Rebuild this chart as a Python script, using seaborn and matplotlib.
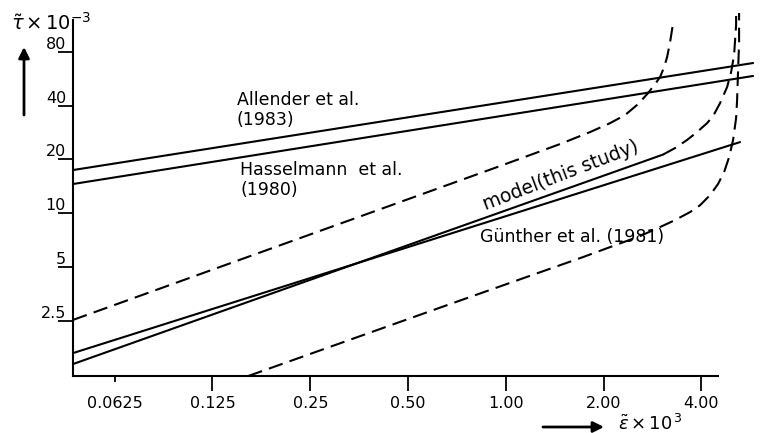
import matplotlib
matplotlib.use("Agg")
import matplotlib.pyplot as plt
from matplotlib.ticker import NullLocator
import seaborn as sns

# ---------------- data ----------------
x_ticks = [0.0625, 0.125, 0.25, 0.5, 1.0, 2.0, 4.0]
x_tick_labels = ["0.0625", "0.125", "0.25", "0.50", "1.00", "2.00", "4.00"]
y_ticks = [2.5, 5, 10, 20, 40, 80]
y_tick_labels = ["2.5", "5", "10", "20", "40", "80"]

allender_x = [0.0465, 5.77]
allender_y = [17.45, 69.1]
hasselmann_x = [0.0465, 5.77]
hasselmann_y = [14.58, 58.5]
guenther_x = [0.0465, 5.26]
guenther_y = [1.658, 25.0]
model_x = [0.0465, 3.05]
model_y = [1.44, 21.3]
model_dash_x = [3.049, 3.320, 3.615, 3.880, 4.165, 4.346, 4.567, 4.800,
                4.938, 5.043, 5.079, 5.116, 5.116]
model_dash_y = [21.3, 23.16, 25.7, 28.45, 31.9, 34.95, 41.3, 50.75,
                61.54, 76.6, 92.9, 112.6, 131.4]
guenther_dash_x = [0.1611, 0.6738, 1.729, 2.094, 2.591, 2.985, 3.320, 3.692,
                   3.963, 4.255, 4.50, 4.699, 4.868, 5.008, 5.116, 5.152,
                   5.188, 5.225, 5.225]
guenther_dash_y = [1.235, 3.115, 5.70, 6.48, 7.47, 8.387, 9.17, 10.17,
                   11.1, 12.65, 14.58, 17.01, 20.6, 25.7, 34.06, 42.9,
                   63.1, 89.4, 131.4]
upper_dash_x = [0.0465, 0.9604, 1.469, 1.818, 2.094, 2.329, 2.555, 2.742,
                2.881, 2.985, 3.071, 3.137, 3.204, 3.273]
upper_dash_y = [2.54, 18.38, 24.38, 28.45, 31.9, 35.4, 40.78, 47.0,
                52.74, 57.7, 65.6, 74.6, 90.5, 115.6]

# ---------------- style ----------------
sns.set_style("white", rc={"axes.edgecolor": "black"})
plt.rcParams["font.family"] = ["DejaVu Sans"]
plt.rcParams["text.color"] = "black"

W, H = 784, 433
fig = plt.figure(figsize=(W / 100, H / 100), dpi=100)
ax = fig.add_axes([73 / W, 57 / H, 687 / W, 371 / H])

LW = 1.5
DASH = (0, (7, 3.5))

def draw(xs, ys, ls="-"):
    sns.lineplot(x=xs, y=ys, ax=ax, color="black", lw=LW, linestyle=ls,
                 estimator=None, sort=False)

ax.set_xscale("log", base=2)
ax.set_yscale("log", base=2)

draw(allender_x, allender_y)
draw(hasselmann_x, hasselmann_y)
draw(guenther_x, guenther_y)
draw(model_x, model_y)
draw(model_dash_x, model_dash_y, DASH)
draw(guenther_dash_x, guenther_dash_y, DASH)
draw(upper_dash_x, upper_dash_y, DASH)

ax.set_xlim(0.0465, 6.06)
ax.set_ylim(1.235, 145.7)

for s in ["top", "right"]:
    ax.spines[s].set_visible(False)
ax.spines["left"].set_bounds(1.235, 120.1)
ax.spines["bottom"].set_bounds(0.0465, 4.50)
ax.spines["left"].set_linewidth(1.5)
ax.spines["bottom"].set_linewidth(1.5)

ax.set_xticks(x_ticks, x_tick_labels)
ax.set_yticks(y_ticks, y_tick_labels)
ax.xaxis.set_minor_locator(NullLocator())
ax.yaxis.set_minor_locator(NullLocator())
ax.tick_params(axis="x", direction="out", length=10.5, width=1.3, pad=4.0,
               labelsize=11.5, colors="black", bottom=True)
ax.tick_params(axis="y", direction="out", length=10.8, width=1.3, pad=-5.8,
               labelsize=11.5, colors="black", left=True)
for lab in ax.get_yticklabels():
    lab.set_verticalalignment("bottom")
ax.xaxis.get_major_ticks()[0].tick1line.set_markersize(4.5)
ax.set_xlabel("")
ax.set_ylabel("")

# ---------------- annotations ----------------
fs = 12.5
fig.text(237 / W, 1 - 91 / H, "Allender et al.\n(1983)", fontsize=fs,
         ha="left", va="top", linespacing=1.15)
fig.text(240 / W, 1 - 161 / H, "Hasselmann  et al.\n(1980)", fontsize=fs,
         ha="left", va="top", linespacing=1.15)
fig.text(561 / W, 1 - 176 / H, "model(this study)", fontsize=13.5,
         ha="center", va="center", rotation=21, rotation_mode="anchor")
fig.text(480 / W, 1 - 237 / H, "Günther et al. (1981)", fontsize=fs,
         ha="left", va="center")

fig.text(11 / W, 1 - 34 / H, r"$\tilde{\tau}\,{\times}\,10^{-3}$", fontsize=14,
         ha="left", va="bottom")
fig.text(618 / W, 1 - 430 / H, r"$\tilde{\varepsilon}\,{\times}\,10^{\,3}$",
         fontsize=13, ha="left", va="baseline")

arrow = dict(arrowstyle="-|>", lw=2, color="black", mutation_scale=16,
             shrinkA=0, shrinkB=0)
ax.annotate("", xy=(24, H - 47), xytext=(24, H - 115),
            xycoords="figure pixels", textcoords="figure pixels",
            arrowprops=arrow, annotation_clip=False)
ax.annotate("", xy=(604, 6), xytext=(543, 6),
            xycoords="figure pixels", textcoords="figure pixels",
            arrowprops=arrow, annotation_clip=False)

fig.savefig("out.png", dpi=100)
